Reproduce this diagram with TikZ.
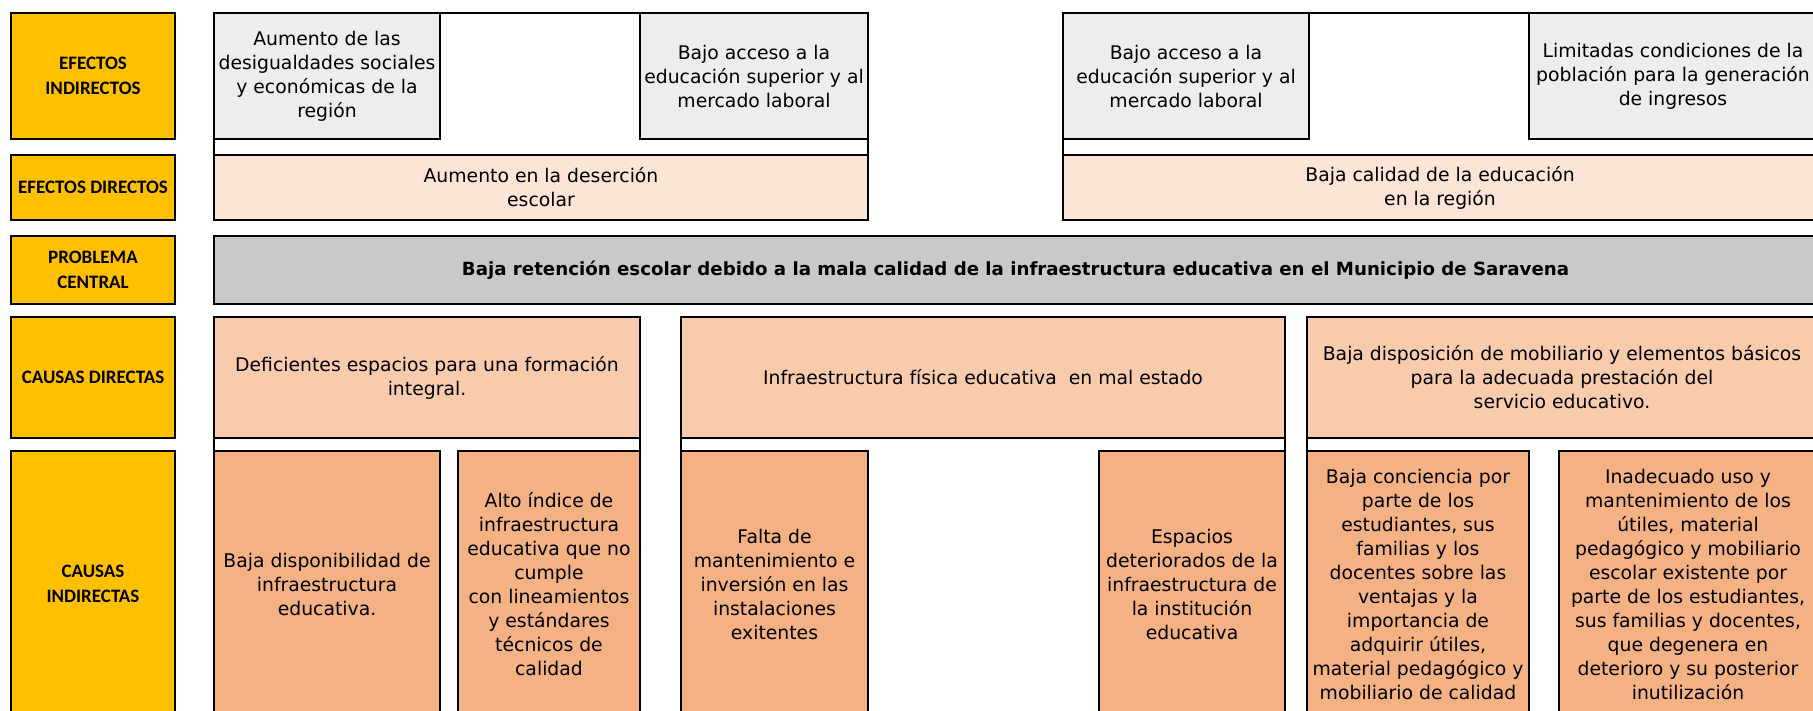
\documentclass[tikz,border=0pt]{standalone}
\usepackage{fontspec}
\setmainfont{DejaVu Sans}
\newfontfamily\labelfamily{Carlito}
\usepackage{tikz}

\definecolor{gold}{HTML}{FFC000}
\definecolor{effgray}{HTML}{EDEDED}
\definecolor{effpink}{HTML}{FCE4D6}
\definecolor{probgray}{HTML}{C9C9C9}
\definecolor{causelight}{HTML}{F8CBAD}
\definecolor{causedark}{HTML}{F4B183}

\begin{document}
\begin{tikzpicture}[x=1pt,y=-1pt,
  cell/.style={draw=black,line width=2pt,anchor=north west,inner sep=0pt,align=center,
    font=\fontsize{18.8}{24}\selectfont},
  outerbox/.style={cell,fill=white,minimum height=#1},
  rowlabel/.style={cell,fill=gold,minimum width=164pt,
    font=\labelfamily\bfseries\fontsize{19}{25}\selectfont},
  effind/.style={cell,fill=effgray,minimum height=126pt},
  effdir/.style={cell,fill=effpink,minimum height=65pt},
  causedir/.style={cell,fill=causelight,minimum height=121pt},
  causeind/.style={cell,fill=causedark,minimum height=266pt}]
\useasboundingbox (0,0) rectangle (1813,711);
\clip (0,0) rectangle (1813,711);

% row labels
\node[rowlabel,minimum height=126pt] (lblEI) at (10,12) {EFECTOS\\INDIRECTOS};
\node[rowlabel,minimum height=65pt] (lblED) at (10,154) {EFECTOS DIRECTOS};
\node[rowlabel,minimum height=68pt] (lblPC) at (10,235) {PROBLEMA\\CENTRAL};
\node[rowlabel,minimum height=121pt] (lblCD) at (10,316) {CAUSAS DIRECTAS};
\node[rowlabel,minimum height=266pt] (lblCI) at (10,450) {CAUSAS\\INDIRECTAS};

% frames
\node[outerbox=207pt,minimum width=654pt] (frEL) at (213,12) {};
\node[outerbox=207pt,minimum width=754pt] (frER) at (1062,12) {};
\node[outerbox=404pt,minimum width=426pt] (frCL) at (213,316) {};
\node[outerbox=404pt,minimum width=604pt] (frCM) at (680,316) {};
\node[outerbox=404pt,minimum width=510pt] (frCR) at (1306,316) {};

% efectos
\node[effind,minimum width=226pt] (eiA) at (213,12) {Aumento de las\\desigualdades sociales\\y económicas de la\\región};
\node[effind,minimum width=228pt] (eiB) at (639,12) {Bajo acceso a la\\educación superior y al\\mercado laboral};
\node[effind,minimum width=246pt] (eiC) at (1062,12) {Bajo acceso a la\\educación superior y al\\mercado laboral};
\node[effind,minimum width=288pt] (eiD) at (1528,12) {Limitadas condiciones de la\\población para la generación\\de ingresos};
\node[effdir,minimum width=654pt] (edA) at (213,154) {Aumento en la deserción\\escolar};
\node[effdir,minimum width=754pt] (edB) at (1062,154) {Baja calidad de la educación\\en la región};

% problema central
\node[cell,fill=probgray,minimum width=1603pt,minimum height=68pt,font=\bfseries\fontsize{18.2}{24}\selectfont] (pc) at (213,235)
  {Baja retención escolar debido a la mala calidad de la infraestructura educativa en el Municipio de Saravena};

% causas
\node[causedir,minimum width=426pt] (cdA) at (213,316) {Deficientes espacios para una formación\\integral.};
\node[causedir,minimum width=604pt] (cdB) at (680,316) {Infraestructura física educativa\ \ en mal estado};
\node[causedir,minimum width=510pt] (cdC) at (1306,316) {Baja disposición de mobiliario y elementos básicos\\para la adecuada prestación del\\servicio educativo.};
\node[causeind,minimum width=226pt] (ciA) at (213,450) {Baja disponibilidad de\\infraestructura\\educativa.};
\node[causeind,minimum width=182pt] (ciB) at (457,450) {Alto índice de\\infraestructura\\educativa que no\\cumple\\con lineamientos\\y estándares\\técnicos de\\calidad};
\node[causeind,minimum width=187pt] (ciC) at (680,450) {Falta de\\mantenimiento e\\inversión en las\\instalaciones\\exitentes};
\node[causeind,minimum width=186pt] (ciD) at (1098,450) {Espacios\\deteriorados de la\\infraestructura de\\la institución\\educativa};
\node[causeind,minimum width=222pt] (ciE) at (1306,450) {Baja conciencia por\\parte de los\\estudiantes, sus\\familias y los\\docentes sobre las\\ventajas y la\\importancia de\\adquirir útiles,\\material pedagógico y\\mobiliario de calidad};
\node[causeind,minimum width=258pt] (ciF) at (1558,450) {Inadecuado uso y\\mantenimiento de los\\útiles, material\\pedagógico y mobiliario\\escolar existente por\\parte de los estudiantes,\\sus familias y docentes,\\que degenera en\\deterioro y su posterior\\inutilización};
\end{tikzpicture}
\end{document}
